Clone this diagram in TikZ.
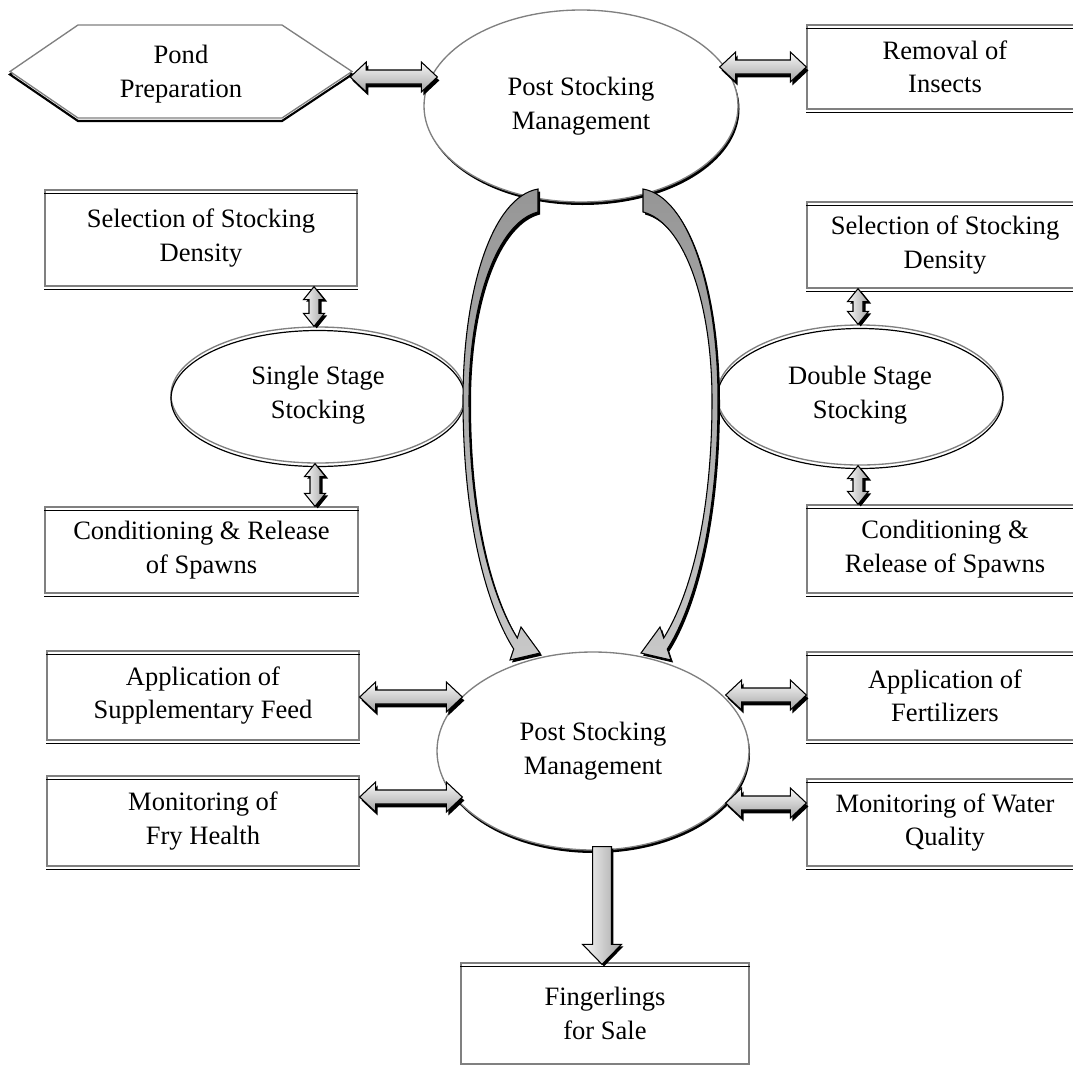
\documentclass[tikz,border=0pt]{standalone}
\usepackage{fontspec}
\setmainfont{Liberation Serif}
\usetikzlibrary{calc,shapes.geometric}

\definecolor{edgegray}{RGB}{128,128,128}
\definecolor{cadark}{RGB}{150,150,150}
\definecolor{calight}{RGB}{200,200,200}
\definecolor{dalight}{RGB}{248,248,248}
\definecolor{dadark}{RGB}{165,165,165}

\tikzset{
 lbl/.style={align=center,font=\fontsize{19.9}{25}\selectfont,inner sep=0pt,text=black},
 boxnode/.style={lbl,draw=edgegray,line width=1pt,fill=white,rectangle},
 boxline/.style={black,line width=1.2pt},
 ellnode/.style={lbl,ellipse,draw=edgegray,line width=1pt,fill=white},
 arrowshadow/.style={fill=black},
 arrowbody/.style={draw=black,line width=0.8pt,top color=dalight,bottom color=dadark},
 varrowbody/.style={draw=black,line width=0.8pt,left color=dalight,right color=dadark},
 curvebody/.style={draw=black,line width=0.8pt,top color=cadark,bottom color=calight},
}

% box: name, x1, y1, x2, y2, text
\newcommand\mybox[6]{%
 \node[boxnode,minimum width={(#4-#2)*0.75pt},minimum height={(#5-#3)*0.75pt}] (#1) at ({(#2+#4)/2},{(#3+#5)/2}) {#6};
 \draw[boxline] ($(#1.north west)+(0,4)$) -- ($(#1.north east)+(0,4)$);
 \draw[boxline] ($(#1.south west)+(0,3)$) -- ($(#1.south east)+(0,3)$);
}
% horizontal double arrow: style, left tip, right tip, dx, dy(down)
\newcommand\hdpoly[5]{%
 \path[#1] let \p1=#2, \p2=#3 in
 (\x1+#4,\y1-#5) -- (\x1+12pt+#4,\y1+11.25pt-#5) -- (\x1+12pt+#4,\y1+5.25pt-#5) -- (\x2-12pt+#4,\y1+5.25pt-#5) -- (\x2-12pt+#4,\y1+11.25pt-#5) -- (\x2+#4,\y1-#5) -- (\x2-12pt+#4,\y1-11.25pt-#5) -- (\x2-12pt+#4,\y1-5.25pt-#5) -- (\x1+12pt+#4,\y1-5.25pt-#5) -- (\x1+12pt+#4,\y1-11.25pt-#5) -- cycle;}
\newcommand\hdarrow[2]{\hdpoly{arrowshadow}{#1}{#2}{1.5pt}{2.6pt}\hdpoly{arrowbody}{#1}{#2}{0pt}{0pt}}
% vertical double arrow: style, top tip, bottom tip, dx, dy(down)
\newcommand\vdpoly[5]{%
 \path[#1] let \p1=#2, \p2=#3 in
 (\x1+#4,\y1-#5) -- (\x1+7.9pt+#4,\y1-9.75pt-#5) -- (\x1+3.75pt+#4,\y1-9.75pt-#5) -- (\x1+3.75pt+#4,\y2+9.75pt-#5) -- (\x1+7.9pt+#4,\y2+9.75pt-#5) -- (\x1+#4,\y2-#5) -- (\x1-7.9pt+#4,\y2+9.75pt-#5) -- (\x1-3.75pt+#4,\y2+9.75pt-#5) -- (\x1-3.75pt+#4,\y1-9.75pt-#5) -- (\x1-7.9pt+#4,\y1-9.75pt-#5) -- cycle;}
\newcommand\vdarrow[2]{\vdpoly{arrowshadow}{#1}{#2}{2pt}{1.5pt}\vdpoly{varrowbody}{#1}{#2}{0pt}{0pt}}
% single down arrow: style, tail, tip, dx, dy(down)
\newcommand\sdpoly[5]{%
 \path[#1] let \p1=#2, \p2=#3 in
 (\x1-7.1pt+#4,\y1-#5) -- (\x1+7.1pt+#4,\y1-#5) -- (\x1+7.1pt+#4,\y2+15pt-#5) -- (\x1+14.6pt+#4,\y2+15pt-#5) -- (\x1+#4,\y2-#5) -- (\x1-14.6pt+#4,\y2+15pt-#5) -- (\x1-7.1pt+#4,\y2+15pt-#5) -- cycle;}

\newcommand\leftcurve{(538,189) .. controls (492,197) and (463,290) .. (463,400) .. controls (463,530) and (490,612) .. (513.7,649) -- (510,660) -- (540,653) -- (521,627) -- (517.3,638) .. controls (496,604) and (469,530) .. (469,400) .. controls (469,300) and (498,222) .. (538,212) -- cycle}
\newcommand\rightcurve{(643,189) .. controls (689,197) and (718,290) .. (718,400) .. controls (718,530) and (691,612) .. (667.3,649) -- (671,660) -- (641,653) -- (660,627) -- (663.7,638) .. controls (685,604) and (712,530) .. (712,400) .. controls (712,300) and (683,222) .. (643,212) -- cycle}
\newcommand\hexpath{(10,71.5) -- (78,25) -- (282,25) -- (352,71.5) -- (282,118) -- (78,118) -- cycle}

\begin{document}
\begin{tikzpicture}[x=0.75pt,y=-0.75pt]
\useasboundingbox (0,0) rectangle (1073,1064);
\clip (0,0) rectangle (1073,1064);
\fill[white] (0,0) rectangle (1073,1064);

% Pond preparation hexagon
\draw[black,line width=1.6pt,shift={(0,3)}] \hexpath;
\draw[edgegray,fill=white,line width=1pt] \hexpath;
\node[lbl,minimum width=256.5pt,minimum height=69.75pt] (pond) at (181,74) {Pond\\Preparation};

% boxes
\mybox{ins}{807}{25}{1083}{109}{Removal of\\Insects}
\mybox{selL}{45}{190}{357}{286}{Selection of Stocking\\Density}
\mybox{condL}{45}{507}{358}{593}{Conditioning \& Release\\of Spawns}
\mybox{appL}{47}{651}{359}{740}{Application of\\Supplementary Feed}
\mybox{monL}{47}{776}{359}{866}{Monitoring of\\Fry Health}
\mybox{selR}{807}{202}{1083}{288}{Selection of Stocking\\Density}
\mybox{condR}{807}{505}{1083}{593}{Conditioning \&\\Release of Spawns}
\mybox{appR}{807}{652}{1083}{740}{Application of\\Fertilizers}
\mybox{monR}{807}{779}{1083}{866}{Monitoring of Water\\Quality}
\mybox{fing}{461}{963}{749}{1064}{Fingerlings\\for Sale}

% big ellipses
\fill[black] (582.5,109) ellipse [x radius=117.75pt, y radius=72pt];
\node[ellnode,minimum width=235.5pt,minimum height=144pt] (top) at (581,106) {Post Stocking\\Management};
\fill[black] (594,754) ellipse [x radius=117pt, y radius=74.25pt];
\node[ellnode,minimum width=234pt,minimum height=148.5pt] (bot) at (593,751) {Post Stocking\\Management};

% stage ellipses
\node[ellnode,minimum width=220.5pt,minimum height=102pt] (single) at (318,395) {Single Stage\\Stocking};
\draw[black,line width=0.9pt] ($(single.center)+(0,3.5)$) ellipse [x radius=110.25pt, y radius=51pt];
\node[ellnode,minimum width=214.5pt,minimum height=105pt] (dbl) at (860,395) {Double Stage\\Stocking};
\draw[black,line width=0.9pt] ($(dbl.center)+(0,3.5)$) ellipse [x radius=107.25pt, y radius=52.5pt];

% curved arrows between the two management ellipses
\fill[black,shift={(2,2.5)}] \leftcurve;
\path[curvebody] \leftcurve;
\fill[black,shift={(2,2.5)}] \rightcurve;
\path[curvebody] \rightcurve;

% double arrows
\hdarrow{($(pond.east)+(-2,3)$)}{($(top.west)+(14,0)$)}
\hdarrow{($(top.east)+(-19,-39)$)}{(ins.west)}
\hdarrow{($(appL.east)+(0,1.5)$)}{($(bot.west)+(26,0)$)}
\hdarrow{($(monL.east)+(0,-24)$)}{($(bot.west)+(26,0)$)}
\hdarrow{($(bot.east)+(-24,-56)$)}{(appR.west)}
\hdarrow{($(bot.east)+(-24,52)$)}{(monR.west)}
\vdarrow{($(selL.south)+(113,0)$)}{(single.north)}
\vdarrow{($(single.south)+(-3,0)$)}{(condL.north)}
\vdarrow{($(selR.south)+(-87,0)$)}{(dbl.north)}
\vdarrow{($(dbl.south)+(-2,0)$)}{(condR.north)}

% down arrow to fingerlings
\sdpoly{arrowshadow}{($(bot.south)+(9,-4)$)}{($(fing.north)+(0,2)$)}{1.5pt}{1.5pt}
\sdpoly{varrowbody}{($(bot.south)+(9,-4)$)}{($(fing.north)+(0,2)$)}{0pt}{0pt}
\end{tikzpicture}
\end{document}
